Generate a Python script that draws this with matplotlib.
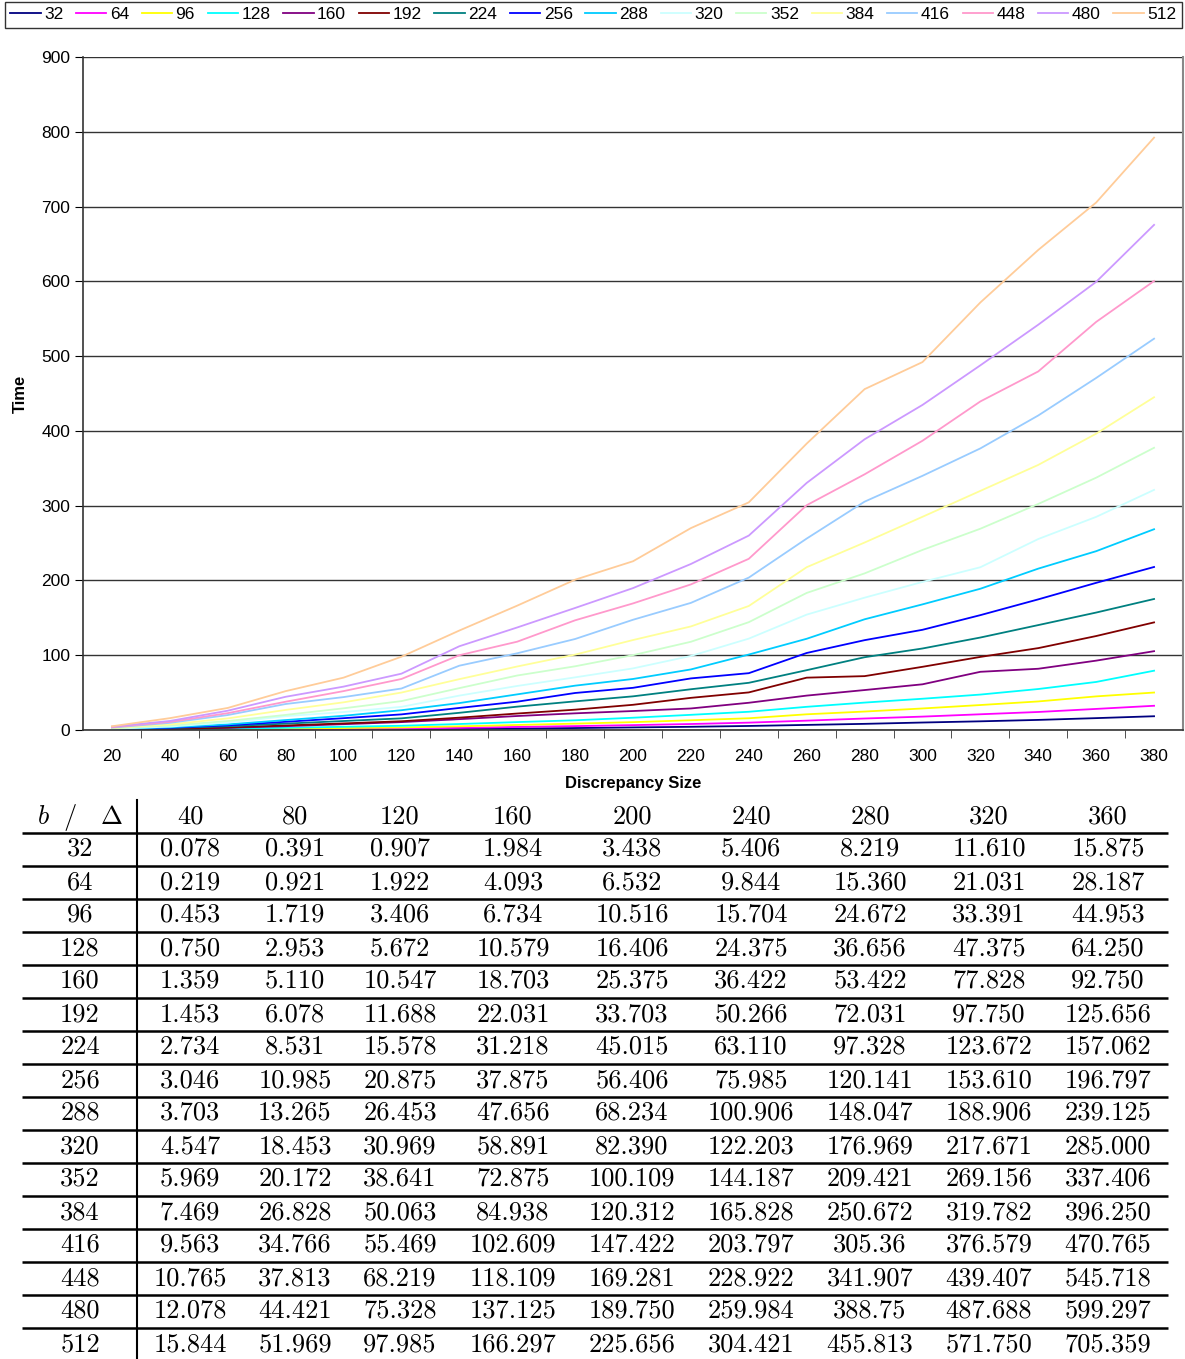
import numpy as np
import matplotlib
matplotlib.use("Agg")
import matplotlib.pyplot as plt

plt.rcParams['font.family'] = ['Liberation Sans', 'DejaVu Sans']
plt.rcParams['mathtext.fontset'] = 'cm'

# discrepancy sizes (x axis)
sizes = [20, 40, 60, 80, 100, 120, 140, 160, 180, 200,
         220, 240, 260, 280, 300, 320, 340, 360, 380]

# block sizes b (series)
blocks = [32, 64, 96, 128, 160, 192, 224, 256,
          288, 320, 352, 384, 416, 448, 480, 512]

t32 = [0.02, 0.078, 0.2, 0.391, 0.62, 0.907, 1.4, 1.984, 2.6, 3.438,
       4.3, 5.406, 6.8, 8.219, 10.0, 11.61, 13.5, 15.875, 18.4]
t64 = [0.06, 0.219, 0.55, 0.921, 1.4, 1.922, 2.9, 4.093, 5.2, 6.532,
       8.0, 9.844, 12.5, 15.36, 17.9, 21.031, 24.1, 28.187, 32.4]
t96 = [0.12, 0.453, 1.0, 1.719, 2.6, 3.406, 4.9, 6.734, 8.5, 10.516,
       13.0, 15.704, 21.0, 24.672, 28.8, 33.391, 38.2, 44.953, 50.1]
t128 = [0.2, 0.75, 1.7, 2.953, 4.3, 5.672, 8.0, 10.579, 13.0, 16.406,
        20.3, 24.375, 31.0, 36.656, 41.8, 47.375, 54.8, 64.25, 79.3]
t160 = [0.35, 1.359, 2.9, 5.11, 7.8, 10.547, 14.5, 18.703, 22.3, 25.375,
        28.8, 36.422, 46.0, 53.422, 61.1, 77.828, 81.9, 92.75, 105.4]
t192 = [0.4, 1.453, 3.3, 6.078, 8.8, 11.688, 16.5, 22.031, 27.2, 33.703,
        43.0, 50.266, 70.0, 72.031, 84.5, 97.75, 109.5, 125.656, 143.9]
t224 = [0.7, 2.734, 5.0, 8.531, 12.0, 15.578, 23.0, 31.218, 38.3, 45.015,
        54.5, 63.11, 80.0, 97.328, 109.0, 123.672, 140.3, 157.062, 175.2]
t256 = [0.9, 3.046, 6.3, 10.985, 15.8, 20.875, 29.5, 37.875, 49.5, 56.406,
        69.0, 75.985, 103.0, 120.141, 134.0, 153.61, 174.7, 196.797, 218.0]
t288 = [1.2, 3.703, 7.5, 13.265, 19.0, 26.453, 36.0, 47.656, 59.3, 68.234,
        81.0, 100.906, 122.0, 148.047, 168.0, 188.906, 215.8, 239.125, 268.5]
t320 = [1.6, 4.547, 10.0, 18.453, 24.0, 30.969, 46.0, 58.891, 70.4, 82.39,
        99.0, 122.203, 154.3, 176.969, 198.0, 217.671, 255.4, 285.0, 321.1]
t352 = [2.0, 5.969, 12.0, 20.172, 29.0, 38.641, 56.0, 72.875, 85.2, 100.109,
        118.0, 144.187, 183.3, 209.421, 240.8, 269.156, 302.3, 337.406, 377.4]
t384 = [2.6, 7.469, 15.5, 26.828, 37.0, 50.063, 68.0, 84.938, 100.8, 120.312,
        138.5, 165.828, 217.7, 250.672, 285.1, 319.782, 354.5, 396.25, 445.0]
t416 = [3.2, 9.563, 20.0, 34.766, 44.0, 55.469, 86.0, 102.609, 121.7, 147.422,
        170.0, 203.797, 256.0, 305.36, 339.9, 376.579, 420.6, 470.765, 523.3]
t448 = [3.8, 10.765, 22.5, 37.813, 52.0, 68.219, 100.0, 118.109, 146.7, 169.281,
        194.7, 228.922, 300.6, 341.907, 386.8, 439.407, 479.5, 545.718, 600.4]
t480 = [4.5, 12.078, 25.8, 44.421, 58.0, 75.328, 112.0, 137.125, 163.2, 189.75,
        222.0, 259.984, 330.4, 388.75, 434.7, 487.688, 542.0, 599.297, 675.5]
t512 = [5.0, 15.844, 29.5, 51.969, 70.0, 97.985, 133.0, 166.297, 201.0, 225.656,
        270.0, 304.421, 383.0, 455.813, 492.0, 571.75, 642.0, 705.359, 792.2]

series = [t32, t64, t96, t128, t160, t192, t224, t256,
          t288, t320, t352, t384, t416, t448, t480, t512]

colors = ['#000080', '#FF00FF', '#FFFF00', '#00FFFF', '#800080', '#800000',
          '#008080', '#0000FF', '#00CCFF', '#CCFFFF', '#CCFFCC', '#FFFF99',
          '#99CCFF', '#FF99CC', '#CC99FF', '#FFCC99']

# table: columns shown and the text as printed
table_cols = [40, 80, 120, 160, 200, 240, 280, 320, 360]
table_text = [
    ["0.078", "0.391", "0.907", "1.984", "3.438", "5.406", "8.219", "11.610", "15.875"],
    ["0.219", "0.921", "1.922", "4.093", "6.532", "9.844", "15.360", "21.031", "28.187"],
    ["0.453", "1.719", "3.406", "6.734", "10.516", "15.704", "24.672", "33.391", "44.953"],
    ["0.750", "2.953", "5.672", "10.579", "16.406", "24.375", "36.656", "47.375", "64.250"],
    ["1.359", "5.110", "10.547", "18.703", "25.375", "36.422", "53.422", "77.828", "92.750"],
    ["1.453", "6.078", "11.688", "22.031", "33.703", "50.266", "72.031", "97.750", "125.656"],
    ["2.734", "8.531", "15.578", "31.218", "45.015", "63.110", "97.328", "123.672", "157.062"],
    ["3.046", "10.985", "20.875", "37.875", "56.406", "75.985", "120.141", "153.610", "196.797"],
    ["3.703", "13.265", "26.453", "47.656", "68.234", "100.906", "148.047", "188.906", "239.125"],
    ["4.547", "18.453", "30.969", "58.891", "82.390", "122.203", "176.969", "217.671", "285.000"],
    ["5.969", "20.172", "38.641", "72.875", "100.109", "144.187", "209.421", "269.156", "337.406"],
    ["7.469", "26.828", "50.063", "84.938", "120.312", "165.828", "250.672", "319.782", "396.250"],
    ["9.563", "34.766", "55.469", "102.609", "147.422", "203.797", "305.36", "376.579", "470.765"],
    ["10.765", "37.813", "68.219", "118.109", "169.281", "228.922", "341.907", "439.407", "545.718"],
    ["12.078", "44.421", "75.328", "137.125", "189.750", "259.984", "388.75", "487.688", "599.297"],
    ["15.844", "51.969", "97.985", "166.297", "225.656", "304.421", "455.813", "571.750", "705.359"],
]

W, H = 1185, 1359
fig = plt.figure(figsize=(W / 100, H / 100), dpi=100)

# ---- line chart
ax = fig.add_axes([83 / W, 1 - 730 / H, 1100 / W, 673 / H])
for b, ys, c in zip(blocks, series, colors):
    ax.plot(sizes, ys, color=c, lw=1.3, label=str(b))

ax.set_xlim(10, 390)
ax.set_ylim(0, 900)
ax.set_yticks(np.arange(0, 901, 100))
ax.set_xticks(sizes)
ax.set_xticks(np.arange(30, 390, 20), minor=True)
ax.tick_params(axis='x', which='major', length=0, pad=14, labelsize=12.5)
ax.tick_params(axis='x', which='minor', length=6, direction='out', color='#333333')
ax.tick_params(axis='y', length=6, direction='out', labelsize=12.5, pad=3)
ax.grid(axis='y', color='#333333', lw=1.0)
ax.set_axisbelow(True)
for s in ['left', 'bottom']:
    ax.spines[s].set_color('#333333')
    ax.spines[s].set_linewidth(1.2)
ax.spines['top'].set_visible(False)
ax.spines['right'].set_color('#888888')
ax.spines['right'].set_linewidth(1.5)
ax.set_xlabel('Discrepancy Size', fontsize=12, fontweight='bold', labelpad=8)
ax.set_ylabel('Time', fontsize=12, fontweight='bold', labelpad=10)

leg = fig.legend(*ax.get_legend_handles_labels(), loc='upper left',
                 bbox_to_anchor=(5 / W, 1 - 2 / H), ncol=16, fontsize=12.5,
                 handlelength=1.75, handletextpad=0.2, columnspacing=0.73,
                 borderpad=0.3, borderaxespad=0, frameon=True, fancybox=False)
leg.get_frame().set_edgecolor('black')
leg.get_frame().set_linewidth(1.0)

# ---- table (pixel coordinates)
tx = fig.add_axes([0, 0, 1, 1])
tx.set_xlim(0, W)
tx.set_ylim(H, 0)
tx.axis('off')

col_x = [190, 295, 400, 513, 632, 751, 870, 989, 1108]
tfont = dict(family='cmr10', fontsize=19, ha='center', va='baseline')

tx.text(80, 824, r'$b\ \ /\ \ \ \Delta$', fontsize=19, ha='center', va='baseline')
for x, c in zip(col_x, table_cols):
    tx.text(x, 824, str(c), **tfont)

for i, (b, row) in enumerate(zip(blocks, table_text)):
    yb = 856 + 33 * i
    tx.text(80, yb, str(b), **tfont)
    for x, s in zip(col_x, row):
        tx.text(x, yb, s, **tfont)

for i in range(16):
    yl = 833 + 33 * i
    tx.plot([22, 1168], [yl, yl], color='black', lw=1.8, solid_capstyle='butt')
tx.plot([137, 137], [800, H], color='black', lw=1.5)

fig.savefig('out.png', dpi=100)
